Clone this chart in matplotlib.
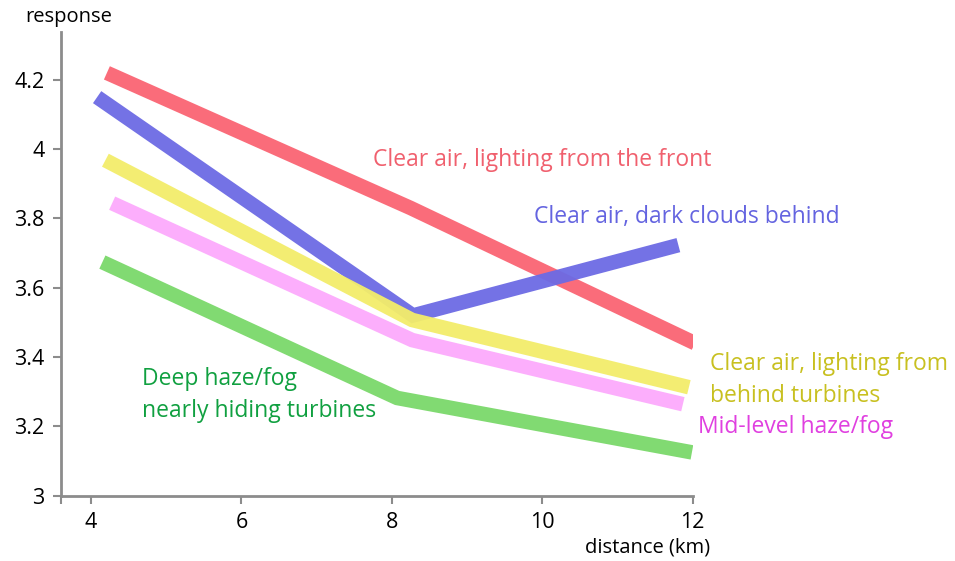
import matplotlib
matplotlib.use("Agg")
import matplotlib.pyplot as plt

plt.rcParams['font.family'] = ['Open Sans', 'DejaVu Sans']

# values: (distance km, response)
red_x = [4.21, 8.25, 12.03]
red_y = [4.22, 3.83, 3.44]
blue_x = [4.08, 8.28, 11.81]
blue_y = [4.15, 3.52, 3.723]
yellow_x = [4.19, 8.27, 11.95]
yellow_y = [3.968, 3.507, 3.313]
pink_x = [4.28, 8.27, 11.87]
pink_y = [3.844, 3.449, 3.264]
green_x = [4.15, 8.07, 11.99]
green_y = [3.674, 3.282, 3.125]

x_ticks = [4, 6, 8, 10, 12]
y_ticks = [3, 3.2, 3.4, 3.6, 3.8, 4, 4.2]
y_tick_labels = ["3", "3.2", "3.4", "3.6", "3.8", "4", "4.2"]

series = [
    (red_x, red_y, '#fa6473', '#f0606e', "Clear air, lighting from the front", 7.75, 3.969),
    (blue_x, blue_y, '#6c6ae4', '#6464e0', "Clear air, dark clouds behind", 9.89, 3.804),
    (yellow_x, yellow_y, '#f3ed6a', '#c8c020', "Clear air, lighting from\nbehind turbines", 12.23, 3.335),
    (pink_x, pink_y, '#fcaafc', '#e040e0', "Mid-level haze/fog", 12.07, 3.198),
    (green_x, green_y, '#7ad86a', '#10a040', "Deep haze/fog\nnearly hiding turbines", 4.68, 3.29),
]

fig = plt.figure(figsize=(9.55, 5.61), dpi=100)
ax = fig.add_axes([0.0639, 0.1164, 0.6614, 0.8266])

for xs, ys, color, tcolor, label, tx, ty in series:
    ax.plot(xs, ys, color=color, lw=10.5, alpha=0.95,
            solid_capstyle='butt', solid_joinstyle='miter')
    ax.text(tx, ty, label, color=tcolor, fontsize=16.5, ha='left', va='center',
            linespacing=1.45)

ax.set_xlim(3.6, 12)
ax.set_ylim(3, 4.338)
ax.set_xticks(x_ticks)
ax.set_xticks([3.6], minor=True)
ax.set_yticks(y_ticks)
ax.set_yticklabels(y_tick_labels)
ax.tick_params(axis='both', which='both', direction='out', length=6, width=1.5,
               color='#8c8c8c', labelsize=15.5, pad=6)

for side in ['top', 'right']:
    ax.spines[side].set_visible(False)
for side in ['left', 'bottom']:
    ax.spines[side].set_color('#8c8c8c')
    ax.spines[side].set_linewidth(2)

fig.text(25 / 955, 1 - 17 / 561, "response", fontsize=14.5, ha='left', va='center')
fig.text(710 / 955, 1 - 548 / 561, "distance (km)", fontsize=14.5, ha='right', va='center')

fig.savefig("out.png", dpi=100)
